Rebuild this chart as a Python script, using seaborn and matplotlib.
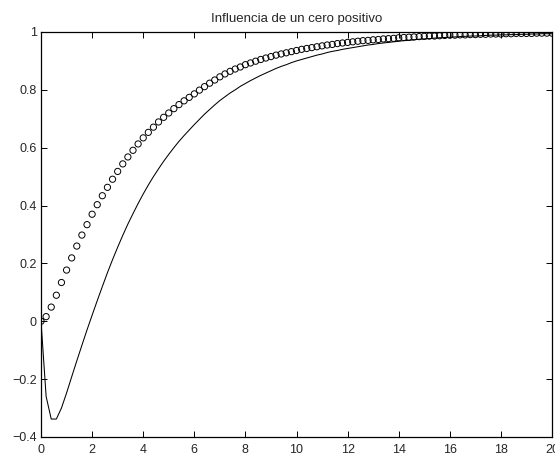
import numpy as np
import pandas as pd
import matplotlib
matplotlib.use("Agg")
import matplotlib.pyplot as plt
import seaborn as sns

# Time grid (s), step 0.2 from 0 to 20
t = np.round(np.arange(0, 20.0001, 0.2), 1)

# Step response without the zero (circles)
resp_sin_cero = [
    0.000, 0.016, 0.049, 0.090, 0.134, 0.177, 0.219, 0.260, 0.298, 0.334,
    0.370, 0.403, 0.434, 0.463, 0.491, 0.518, 0.544, 0.568, 0.591, 0.613,
    0.634, 0.653, 0.671, 0.689, 0.705, 0.720, 0.735, 0.749, 0.762, 0.774,
    0.786, 0.799, 0.811, 0.823, 0.834, 0.845, 0.855, 0.864, 0.872, 0.879,
    0.887, 0.893, 0.899, 0.905, 0.910, 0.915, 0.920, 0.924, 0.928, 0.932,
    0.936, 0.940, 0.943, 0.946, 0.949, 0.952, 0.955, 0.957, 0.960, 0.962,
    0.964, 0.966, 0.968, 0.970, 0.971, 0.973, 0.974, 0.976, 0.977, 0.978,
    0.980, 0.981, 0.982, 0.983, 0.984, 0.985, 0.986, 0.986, 0.987, 0.988,
    0.989, 0.989, 0.990, 0.990, 0.991, 0.991, 0.992, 0.992, 0.993, 0.993,
    0.993, 0.994, 0.994, 0.995, 0.995, 0.995, 0.995, 0.996, 0.996, 0.996,
    0.996,
]

# Step response with the positive zero (solid line)
resp_cero_pos = [
    0.000, -0.260, -0.338, -0.338, -0.300, -0.248, -0.192, -0.137, -0.083, -0.030,
    0.021, 0.071, 0.120, 0.168, 0.213, 0.256, 0.297, 0.336, 0.372, 0.407,
    0.440, 0.471, 0.500, 0.527, 0.553, 0.577, 0.600, 0.622, 0.642, 0.661,
    0.680, 0.698, 0.716, 0.732, 0.748, 0.763, 0.776, 0.789, 0.800, 0.812,
    0.822, 0.832, 0.841, 0.850, 0.858, 0.866, 0.874, 0.881, 0.887, 0.894,
    0.900, 0.905, 0.910, 0.915, 0.920, 0.924, 0.929, 0.933, 0.936, 0.940,
    0.943, 0.946, 0.949, 0.952, 0.955, 0.957, 0.960, 0.962, 0.964, 0.966,
    0.968, 0.970, 0.971, 0.973, 0.975, 0.976, 0.977, 0.979, 0.980, 0.981,
    0.982, 0.983, 0.984, 0.985, 0.986, 0.986, 0.987, 0.988, 0.989, 0.989,
    0.990, 0.990, 0.991, 0.991, 0.992, 0.992, 0.993, 0.993, 0.994, 0.994,
    0.994,
]

x_ticks = [0, 2, 4, 6, 8, 10, 12, 14, 16, 18, 20]
y_ticks = [-0.4, -0.2, 0, 0.2, 0.4, 0.6, 0.8, 1]
y_tick_labels = ["\u22120.4", "\u22120.2", "0", "0.2", "0.4", "0.6", "0.8", "1"]
titulo = "Influencia de un cero positivo"

df = pd.DataFrame({"t": t, "sin_cero": resp_sin_cero, "cero_pos": resp_cero_pos})

sns.set_style("white")
plt.rcParams["font.family"] = ["Liberation Sans", "DejaVu Sans"]
plt.rcParams["xtick.direction"] = "in"
plt.rcParams["ytick.direction"] = "in"

fig = plt.figure(figsize=(5.55, 4.55), dpi=100)
ax = fig.add_axes([0.0739, 0.0396, 0.9207, 0.8901])

sns.scatterplot(data=df, x="t", y="sin_cero", ax=ax, marker="o", s=20,
                facecolors="none", edgecolor="black", linewidth=0.7,
                legend=False, zorder=3)
sns.lineplot(data=df, x="t", y="cero_pos", ax=ax, color="black",
             linewidth=0.75, legend=False, zorder=2)

ax.set_xlim(0, 20)
ax.set_ylim(-0.4, 1)
ax.set_xticks(x_ticks)
ax.set_xticklabels([str(v) for v in x_ticks])
ax.set_yticks(y_ticks)
ax.set_yticklabels(y_tick_labels)
ax.set_xlabel("")
ax.set_ylabel("")
ax.set_title(titulo, fontsize=9.5, pad=7.5)

ax.tick_params(axis="both", which="both", labelsize=9, length=4, width=0.7,
               color="black", top=True, right=True, bottom=True, left=True)
ax.tick_params(axis="x", pad=5)
ax.tick_params(axis="y", pad=3)
for side in ax.spines.values():
    side.set_visible(True)
    side.set_color("black")
    side.set_linewidth(0.9)

fig.savefig("out.png", dpi=100)
